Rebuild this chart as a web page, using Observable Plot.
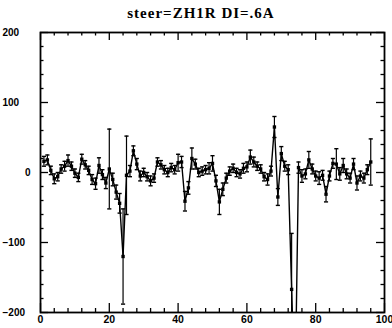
<!DOCTYPE html>
<html><head><meta charset="utf-8">
<script src="https://cdn.jsdelivr.net/npm/d3@7"></script>
<script src="https://cdn.jsdelivr.net/npm/@observablehq/plot@0.6"></script>
<style>
body{margin:0;background:#fff;}
#title{width:392px;height:24px;box-sizing:border-box;padding-top:6px;padding-left:10px;text-align:center;font:bold 15px "Liberation Serif",serif;letter-spacing:1px;line-height:15px;color:#000;}
</style></head><body>
<div id="title">steer=ZH1R DI=.6A</div>
<div id="chart"></div>
<script>
const channel = [1,2,3,4,5,6,7,8,9,10,11,12,13,14,15,16,17,18,19,20,21,22,23,24,25,26,27,28,29,30,31,32,33,34,35,36,37,38,39,40,41,42,43,44,45,46,47,48,49,50,51,52,53,54,55,56,57,58,59,60,61,62,63,64,65,66,67,68,69,70,71,72,73,74,75,76,77,78,79,80,81,82,83,84,85,86,87,88,89,90,91,92,93,94,95,96];
const value = [16,18,3,-9,-6,5,9,17,9,-1,-7,19,11,3,-10,-16,10,-3,-15,5,-10,-28,-44,-120,-4,2,31,12,-5,0,-6,-12,-8,15,11,4,0,7,4,14,15,-41,-22,20,12,0,2,4,6,13,-12,-42,-24,-8,2,6,0,-2,6,8,22,15,9,5,-6,-10,2,65,-35,27,9,4,-167,-320,7,-5,-2,18,5,-5,-8,-4,-31,-5,13,12,-2,10,-2,-8,12,-15,-5,-8,4,15];
const error = [7,7,6,7,6,6,7,8,6,6,6,7,6,6,7,8,11,7,8,57,9,10,14,68,56,8,7,8,7,6,6,7,6,6,6,6,6,6,6,12,8,14,9,15,7,6,6,6,8,11,8,18,9,7,6,6,6,6,7,7,10,7,6,6,6,8,7,15,12,10,7,7,80,60,8,9,7,12,7,7,9,7,11,7,7,22,9,10,7,7,8,10,7,7,7,33];
const xMajor = [0,20,40,60,80,100];
const xMinor = [4,8,12,16,24,28,32,36,44,48,52,56,64,68,72,76,84,88,92,96];
const yMajor = [-200,-100,0,100,200];
const yMinor = [-180,-160,-140,-120,-80,-60,-40,-20,20,40,60,80,120,140,160,180];
const yLabelsOuter = [-200,-100,100,200];
const yLabelsZero = [0];

const data = channel.map((c, i) => ({x: c, y: value[i], lo: value[i] - error[i], hi: value[i] + error[i]}));
const W = 392, H = 304, mL = 40, mR = 8, mT = 8, mB = 16;
const iW = W - mL - mR, iH = H - mT - mB;

const chart = Plot.plot({
  width: W, height: H,
  marginLeft: mL, marginRight: mR, marginTop: mT, marginBottom: mB,
  style: {fontFamily: "Liberation Sans", background: "#fff", color: "#000"},
  x: {domain: [0, 100]},
  y: {domain: [-200, 200]},
  marks: [
    Plot.frame({stroke: "#000", strokeWidth: 1.8}),
    Plot.tickX(xMajor, {x: d => d, insetBottom: iH - 8, stroke: "#000", strokeWidth: 1.3}),
    Plot.tickX(xMajor, {x: d => d, insetTop: iH - 9, stroke: "#000", strokeWidth: 1.3}),
    Plot.tickX(xMinor, {x: d => d, insetBottom: iH - 3.5, stroke: "#000", strokeWidth: 1.3}),
    Plot.tickX(xMinor, {x: d => d, insetTop: iH - 4, stroke: "#000", strokeWidth: 1.3}),
    Plot.tickY(yMajor, {y: d => d, insetRight: iW - 8, stroke: "#000", strokeWidth: 1.3}),
    Plot.tickY(yMajor, {y: d => d, insetLeft: iW - 8, stroke: "#000", strokeWidth: 1.3}),
    Plot.tickY(yMinor, {y: d => d, insetRight: iW - 3.5, stroke: "#000", strokeWidth: 1.3}),
    Plot.tickY(yMinor, {y: d => d, insetLeft: iW - 3.5, stroke: "#000", strokeWidth: 1.3}),
    Plot.ruleX(data, {x: "x", y1: "lo", y2: "hi", stroke: "#000", strokeWidth: 1.2, clip: true}),
    Plot.link(data, {x1: d => d.x - 0.6, x2: d => d.x + 0.6, y1: "hi", y2: "hi", stroke: "#000", strokeWidth: 1.4, clip: true}),
    Plot.link(data, {x1: d => d.x - 0.6, x2: d => d.x + 0.6, y1: "lo", y2: "lo", stroke: "#000", strokeWidth: 1.4, clip: true}),
    Plot.line(data, {x: "x", y: "y", stroke: "#000", strokeWidth: 1.4, clip: true}),
    Plot.dot(data, {x: "x", y: "y", symbol: "square", r: 1.9, fill: "#000", clip: true}),
    Plot.axisX({ticks: xMajor, label: null, tickSize: 0, tickPadding: 3, fontSize: 10.5, fontWeight: "bold"}),
    Plot.axisY({ticks: yLabelsOuter, label: null, tickSize: 0, tickPadding: 38, textAnchor: "start", fontSize: 10, fontWeight: "bold"}),
    Plot.axisY({ticks: yLabelsZero, label: null, tickSize: 0, tickPadding: 10, fontSize: 10, fontWeight: "bold"})
  ]
});
document.getElementById("chart").appendChild(chart);
</script>
</body></html>
